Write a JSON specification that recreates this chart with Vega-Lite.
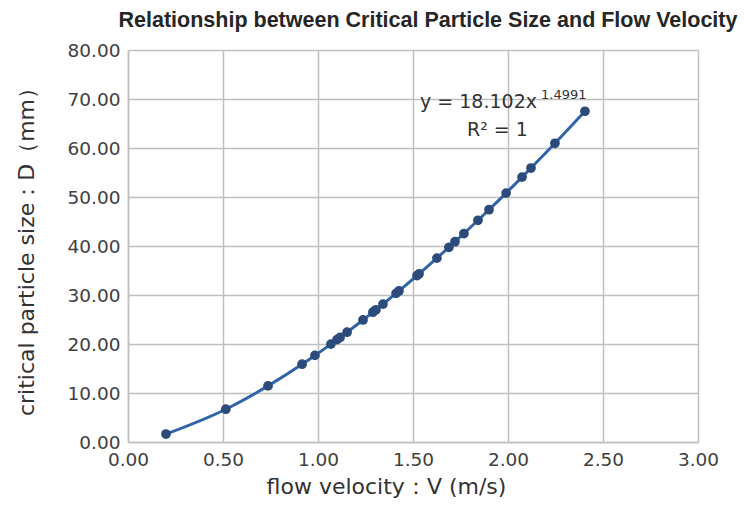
{
  "$schema": "https://vega.github.io/schema/vega-lite/v6.json",
  "width": 570,
  "height": 392,
  "autosize": "none",
  "padding": {"left": 128, "top": 50, "right": 47, "bottom": 64},
  "background": "white",
  "title": {
    "text": "Relationship between Critical Particle Size and Flow Velocity",
    "font": "Liberation Sans",
    "fontSize": 21.5,
    "fontWeight": "bold",
    "color": "#262626",
    "anchor": "middle",
    "offset": 10,
    "dx": 15
  },
  "config": {
    "view": {"stroke": null},
    "axis": {
      "labelFont": "DejaVu Sans",
      "titleFont": "DejaVu Sans",
      "labelFontSize": 18.5,
      "titleFontSize": 22,
      "titleFontWeight": "normal",
      "labelColor": "#404040",
      "titleColor": "#333333",
      "gridColor": "#C0C0C0",
      "gridWidth": 1.5,
      "domainColor": "#C0C0C0",
      "domainWidth": 1.5,
      "ticks": false,
      "labelFlush": false,
      "labelOverlap": false
    }
  },
  "datasets": {
    "pts": [
      {"V": 0.20, "D": 1.62},
      {"V": 0.515, "D": 6.69},
      {"V": 0.737, "D": 11.45},
      {"V": 0.916, "D": 15.87},
      {"V": 0.984, "D": 17.67},
      {"V": 1.068, "D": 19.98},
      {"V": 1.100, "D": 20.89},
      {"V": 1.116, "D": 21.34},
      {"V": 1.153, "D": 22.41},
      {"V": 1.237, "D": 24.90},
      {"V": 1.289, "D": 26.49},
      {"V": 1.305, "D": 26.99},
      {"V": 1.342, "D": 28.14},
      {"V": 1.411, "D": 30.34},
      {"V": 1.426, "D": 30.82},
      {"V": 1.521, "D": 33.95},
      {"V": 1.532, "D": 34.32},
      {"V": 1.626, "D": 37.53},
      {"V": 1.689, "D": 39.73},
      {"V": 1.721, "D": 40.87},
      {"V": 1.768, "D": 42.55},
      {"V": 1.842, "D": 45.25},
      {"V": 1.900, "D": 47.40},
      {"V": 1.990, "D": 50.80},
      {"V": 2.074, "D": 54.06},
      {"V": 2.121, "D": 55.91},
      {"V": 2.247, "D": 60.96},
      {"V": 2.405, "D": 67.50}
    ],
    "ann": [
      {"V": 1.537, "D": 68.2, "label": "y = 18.102x", "size": 19},
      {"V": 2.174, "D": 70.0, "label": "1.4991", "size": 13},
      {"V": 1.784, "D": 62.4, "label": "R² = 1", "size": 19}
    ]
  },
  "layer": [
    {
      "data": {"name": "pts"},
      "mark": {"type": "line", "interpolate": "monotone", "color": "#3063A8", "strokeWidth": 3},
      "encoding": {
        "x": {
          "field": "V", "type": "quantitative",
          "scale": {"domain": [0, 3], "nice": false},
          "axis": {"values": [0, 0.5, 1, 1.5, 2, 2.5, 3], "format": ".2f", "title": "flow velocity：V (m/s)", "labelPadding": 8, "titlePadding": 8, "titleX": 258}
        },
        "y": {
          "field": "D", "type": "quantitative",
          "scale": {"domain": [0, 80], "nice": false},
          "axis": {"values": [0, 10, 20, 30, 40, 50, 60, 70, 80], "format": ".2f", "title": "critical particle size：D（mm）", "labelPadding": 8, "titlePadding": 29}
        }
      }
    },
    {
      "data": {"name": "pts"},
      "mark": {"type": "point", "filled": true, "opacity": 1, "color": "#2C4A7A", "size": 95},
      "encoding": {
        "x": {"field": "V", "type": "quantitative"},
        "y": {"field": "D", "type": "quantitative"}
      }
    },
    {
      "data": {"name": "ann"},
      "mark": {"type": "text", "align": "left", "baseline": "alphabetic", "font": "DejaVu Sans", "color": "#333333"},
      "encoding": {
        "x": {"field": "V", "type": "quantitative"},
        "y": {"field": "D", "type": "quantitative"},
        "text": {"field": "label"},
        "size": {"field": "size", "type": "quantitative", "scale": null}
      }
    }
  ]
}
